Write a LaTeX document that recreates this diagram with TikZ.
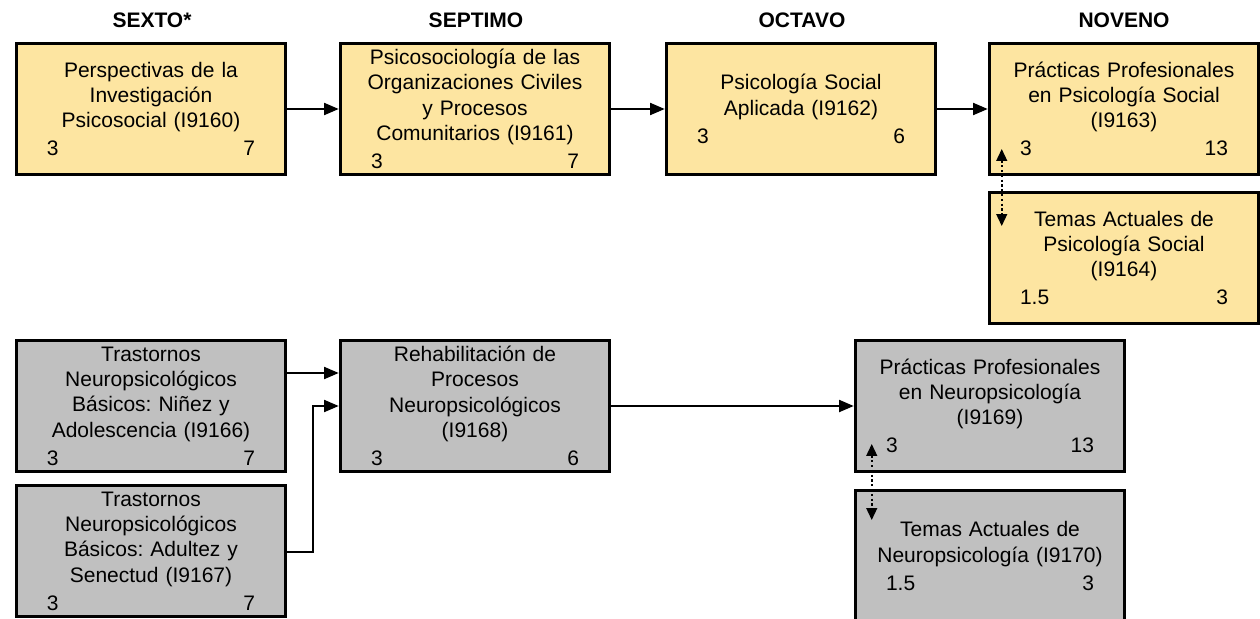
\documentclass[tikz,border=0pt]{standalone}
\usepackage{fontspec}
\setmainfont{Liberation Sans}
\usepackage{tikz}
\usetikzlibrary{calc,positioning,arrows.meta}

\definecolor{amarillo}{HTML}{FDE5A1}
\definecolor{gris}{HTML}{C0C0C0}
\newcommand{\creditos}[2]{\\[2pt]\makebox[\linewidth]{\hspace*{12pt}#1\hfill#2\hspace*{12pt}}}
\frenchspacing

\begin{document}
\begin{tikzpicture}[x=0.75pt,y=-0.75pt,
    font=\fontsize{15.75pt}{19pt}\selectfont,
    curso/.style={draw=black,line width=2.4pt,minimum width=202pt,minimum height=98pt,
                  text width=180pt,align=center,inner sep=0pt},
    sem/.style={font=\fontsize{15.75pt}{19pt}\selectfont\bfseries},
    flecha/.style={line width=1.5pt,-{Triangle[length=11pt,width=9pt]}},
    enlace/.style={line width=1.6pt,dotted,{Triangle[length=9pt,width=8pt]}-{Triangle[length=9pt,width=8pt]}}]
  \useasboundingbox (0,0) rectangle (1260,618);

  % semestres
  \node[sem] (s6) at (152,20) {SEXTO*};
  \node[sem] (s7) at (476,20) {SEPTIMO};
  \node[sem] (s8) at (802,20) {OCTAVO};
  \node[sem] (s9) at (1124,20) {NOVENO};

  % psicologia social
  \node[curso,fill=amarillo] (c60) at (151,109) {Perspectivas de la\\Investigaci\'on\\Psicosocial (I9160)\creditos{3}{7}};
  \node[curso,fill=amarillo] (c61) at (475,109) {Psicosociolog\'ia de las\\Organizaciones Civiles\\y Procesos\\Comunitarios (I9161)\creditos{3}{7}};
  \node[curso,fill=amarillo] (c62) at (801,109) {Psicolog\'ia Social\\Aplicada (I9162)\creditos{3}{6}};
  \node[curso,fill=amarillo] (c63) at (1124,109) {Pr\'acticas Profesionales\\en Psicolog\'ia Social\\(I9163)\creditos{3}{13}};
  \node[curso,fill=amarillo] (c64) at (1124,258) {Temas Actuales de\\Psicolog\'ia Social\\(I9164)\creditos{1.5}{3}};

  % neuropsicologia
  \node[curso,fill=gris] (c66) at (151,406) {Trastornos\\Neuropsicol\'ogicos\\B\'asicos: Ni\~nez y\\Adolescencia (I9166)\creditos{3}{7}};
  \node[curso,fill=gris] (c67) at (151,551) {Trastornos\\Neuropsicol\'ogicos\\B\'asicos: Adultez y\\Senectud (I9167)\creditos{3}{7}};
  \node[curso,fill=gris] (c68) at (475,406) {Rehabilitaci\'on de\\Procesos\\Neuropsicol\'ogicos\\(I9168)\creditos{3}{6}};
  \node[curso,fill=gris] (c69) at (990,406) {Pr\'acticas Profesionales\\en Neuropsicolog\'ia\\(I9169)\creditos{3}{13}};
  \node[curso,fill=gris] (c70) at (990,556) {Temas Actuales de\\Neuropsicolog\'ia (I9170)\creditos{1.5}{3}\\[4pt]};

  \draw[flecha] (c60) -- (c61);
  \draw[flecha] (c61) -- (c62);
  \draw[flecha] (c62) -- (c63);
  \draw[flecha] ($(c66.east)+(0,-33)$) -- ($(c68.west)+(0,-33)$);
  \draw[flecha] ($(c67.east)+(0,1)$) -- ++(26,0) |- (c68.west);
  \draw[flecha] (c68) -- (c69);

  \draw[enlace] ($(c63.south west)+(14,-27)$) -- ($(c64.north west)+(14,35)$);
  \draw[enlace] ($(c69.south west)+(18,-29)$) -- ($(c70.north west)+(18,31)$);
\end{tikzpicture}
\end{document}
